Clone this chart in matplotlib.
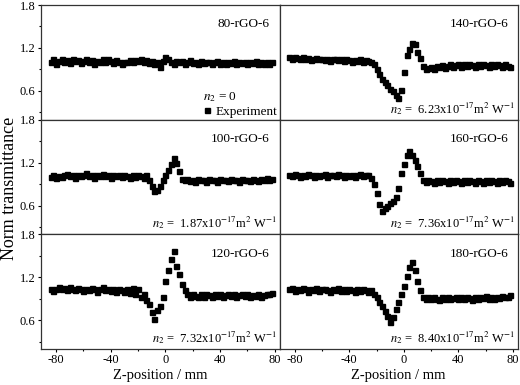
import matplotlib
matplotlib.use("Agg")
import matplotlib.pyplot as plt
from matplotlib.ticker import MultipleLocator

plt.rcParams['font.family'] = ['Liberation Serif', 'DejaVu Serif']
plt.rcParams['mathtext.fontset'] = 'stix'
plt.rcParams['axes.unicode_minus'] = False

# positions z (mm)
z = [-84, -82, -80, -78, -76, -74, -72, -70, -68, -66,
     -64, -62, -60, -58, -56, -54, -52, -50, -48, -46,
     -44, -42, -40, -38, -36, -34, -32, -30, -28, -26,
     -24, -22, -20, -18, -16, -14, -12, -10, -8, -6,
     -4, -2, 0, 2, 4, 6, 8, 10, 12, 14,
     16, 18, 20, 22, 24, 26, 28, 30, 32, 34,
     36, 38, 40, 42, 44, 46, 48, 50, 52, 54,
     56, 58, 60, 62, 64, 66, 68, 70, 72, 74, 76, 78]

t80 = [1.01, 1.04, 0.98, 1.02, 1.05, 1.00, 1.03, 0.99, 1.04, 1.02,
       1.03, 0.99, 1.02, 1.05, 1.01, 1.03, 0.98, 1.02, 1.00, 1.04,
       1.01, 1.04, 1.02, 0.99, 1.03, 1.01, 0.97, 1.01, 1.00, 1.03,
       1.01, 1.03, 1.02, 1.05, 1.01, 1.03, 0.99, 1.02, 0.98, 1.01,
       0.94, 1.02, 1.08, 1.04, 1.01, 0.98, 1.02, 1.00, 1.02, 0.98,
       1.01, 1.03, 0.99, 1.01, 0.98, 1.02, 0.99, 1.01, 1.00, 0.97,
       1.00, 1.02, 0.98, 1.01, 0.97, 1.00, 0.99, 1.02, 0.98, 1.00,
       0.99, 1.01, 0.97, 1.00, 0.99, 1.02, 0.98, 1.00, 0.98, 1.01, 0.97, 1.00]

t100 = [1.00, 1.03, 0.98, 1.01, 1.00, 1.03, 1.04, 1.01, 1.02, 0.99,
        1.03, 1.01, 1.02, 1.05, 1.01, 1.03, 0.99, 1.02, 1.01, 1.04,
        1.01, 1.02, 0.99, 1.03, 1.01, 1.02, 1.00, 1.03, 1.01, 0.98,
        1.02, 1.00, 1.03, 1.01, 0.99, 1.02, 0.95, 0.88, 0.80, 0.82,
        0.88, 0.95, 1.02, 1.10, 1.18, 1.27, 1.20, 1.08, 0.97, 0.95,
        0.97, 0.94, 0.96, 0.93, 0.97, 0.95, 0.96, 0.93, 0.97, 0.95,
        0.96, 0.93, 0.97, 0.95, 0.96, 0.94, 0.97, 0.95, 0.96, 0.93,
        0.97, 0.95, 0.96, 0.94, 0.97, 0.96, 0.94, 0.97, 0.96, 0.98, 0.95, 0.97]

t120 = [1.03, 1.01, 1.04, 1.06, 1.03, 1.05, 1.02, 1.06, 1.04, 1.02,
        1.05, 1.03, 1.01, 1.04, 1.02, 1.05, 1.03, 1.00, 1.04, 1.06,
        1.02, 1.04, 1.01, 1.03, 1.00, 1.04, 1.02, 0.99, 1.03, 0.98,
        1.05, 0.97, 1.04, 0.93, 0.97, 0.88, 0.82, 0.72, 0.61, 0.74,
        0.80, 0.92, 1.15, 1.30, 1.45, 1.56, 1.35, 1.25, 1.10, 1.02,
        0.97, 0.93, 0.96, 0.94, 0.92, 0.96, 0.93, 0.97, 0.95, 0.93,
        0.96, 0.94, 0.97, 0.93, 0.95, 0.97, 0.94, 0.96, 0.93, 0.95,
        0.97, 0.94, 0.96, 0.92, 0.95, 0.94, 0.96, 0.93, 0.95, 0.97, 0.96, 0.98]

t140 = [1.07, 1.05, 1.08, 1.06, 1.04, 1.07, 1.05, 1.06, 1.03, 1.05,
        1.06, 1.04, 1.05, 1.03, 1.05, 1.02, 1.04, 1.05, 1.03, 1.04,
        1.02, 1.04, 1.03, 1.01, 1.03, 1.02, 1.04, 1.01, 1.03, 1.02,
        1.01, 0.97, 0.90, 0.83, 0.76, 0.72, 0.68, 0.63, 0.60, 0.55,
        0.50, 0.62, 0.86, 1.10, 1.18, 1.27, 1.25, 1.15, 1.06, 0.95,
        0.90, 0.92, 0.94, 0.91, 0.95, 0.93, 0.96, 0.92, 0.95, 0.97,
        0.93, 0.96, 0.98, 0.94, 0.97, 0.95, 0.98, 0.96, 0.94, 0.97,
        0.95, 0.98, 0.96, 0.94, 0.97, 0.95, 0.98, 0.96, 0.94, 0.97, 0.95, 0.93]

t160 = [1.03, 1.01, 1.04, 1.02, 1.00, 1.03, 1.01, 1.04, 1.02, 1.00,
        1.03, 1.01, 1.02, 1.04, 1.00, 1.02, 1.03, 1.01, 1.04, 1.02,
        1.00, 1.03, 1.01, 1.03, 1.00, 1.02, 1.04, 1.01, 1.03, 1.02,
        0.99, 0.90, 0.77, 0.62, 0.53, 0.57, 0.60, 0.63, 0.67, 0.72,
        0.85, 1.05, 1.18, 1.30, 1.36, 1.30, 1.23, 1.15, 1.05, 0.96,
        0.93, 0.96, 0.94, 0.92, 0.95, 0.93, 0.96, 0.94, 0.92, 0.95,
        0.93, 0.96, 0.94, 0.92, 0.95, 0.93, 0.96, 0.94, 0.92, 0.95,
        0.94, 0.92, 0.95, 0.93, 0.96, 0.94, 0.92, 0.95, 0.93, 0.96, 0.94, 0.92]

t180 = [1.03, 1.05, 1.01, 1.04, 1.02, 1.05, 1.03, 1.00, 1.04, 1.02,
        1.05, 1.01, 1.03, 1.04, 1.02, 1.00, 1.04, 1.02, 1.05, 1.01,
        1.03, 1.01, 1.04, 1.02, 1.00, 1.03, 1.01, 1.04, 1.02, 1.00,
        1.02, 0.97, 0.92, 0.86, 0.80, 0.73, 0.66, 0.58, 0.65, 0.76,
        0.85, 0.97, 1.08, 1.22, 1.34, 1.41, 1.30, 1.15, 1.02, 0.93,
        0.90, 0.93, 0.89, 0.92, 0.90, 0.88, 0.92, 0.90, 0.93, 0.89,
        0.91, 0.93, 0.90, 0.92, 0.89, 0.93, 0.91, 0.88, 0.92, 0.90,
        0.93, 0.91, 0.94, 0.89, 0.92, 0.90, 0.93, 0.91, 0.94, 0.92, 0.93, 0.95]

samples = [["80-rGO-6", "140-rGO-6"],
           ["100-rGO-6", "160-rGO-6"],
           ["120-rGO-6", "180-rGO-6"]]
series = [[t80, t140], [t100, t160], [t120, t180]]
n2 = [[None, "6.23"], ["1.87", "7.36"], ["7.32", "8.40"]]

fig, axes = plt.subplots(3, 2, sharex=True, sharey=True, figsize=(5.2, 3.85), dpi=100)
fig.subplots_adjust(left=0.079, right=0.996, top=0.987, bottom=0.094, wspace=0, hspace=0)

for i in range(3):
    for j in range(2):
        ax = axes[i][j]
        ax.plot(z, series[i][j], linestyle='none', marker='s', markersize=3.6,
                color='black', label='Experiment')
        ax.set_xlim(-91, 83.5)
        ax.set_ylim(0.2, 1.8)
        ax.xaxis.set_major_locator(MultipleLocator(40))
        ax.xaxis.set_minor_locator(MultipleLocator(20))
        ax.yaxis.set_major_locator(MultipleLocator(0.6))
        ax.yaxis.set_minor_locator(MultipleLocator(0.3))
        ax.tick_params(which='both', direction='out', labelsize=9, top=False, right=False,
                       pad=1.5, width=0.8)
        ax.tick_params(which='major', length=2.5)
        ax.tick_params(which='minor', length=1.5)
        if i < 2:
            ax.tick_params(which='both', bottom=False)
        if j == 1:
            ax.tick_params(which='both', left=False)
        for s in ax.spines.values():
            s.set_linewidth(0.9)
            s.set_color('#333333')
        ax.text(0.96, 0.83, samples[i][j], transform=ax.transAxes,
                ha='right', va='center', fontsize=9.5)
        if n2[i][j] is not None:
            ax.text(0.99, 0.10, r"$n_2$ =  " + n2[i][j] + r"x10$^{-17}$m$^2$ W$^{-1}$",
                    transform=ax.transAxes, ha='right', va='center', fontsize=9)
        else:
            ax.legend(title=r"$n_2$ = 0", alignment='left', loc='lower right',
                      frameon=False, fontsize=9.5, title_fontsize=9.5,
                      handlelength=0.6, handletextpad=0.4, borderaxespad=0.05,
                      borderpad=0.1, labelspacing=0.1)

for j in range(2):
    axes[2][j].set_xlabel("Z-position / mm", fontsize=10.5, labelpad=2)

fig.text(0.018, 0.51, "Norm transmittance", rotation=90, ha='center', va='center', fontsize=13)

plt.savefig("out.png", dpi=100)
